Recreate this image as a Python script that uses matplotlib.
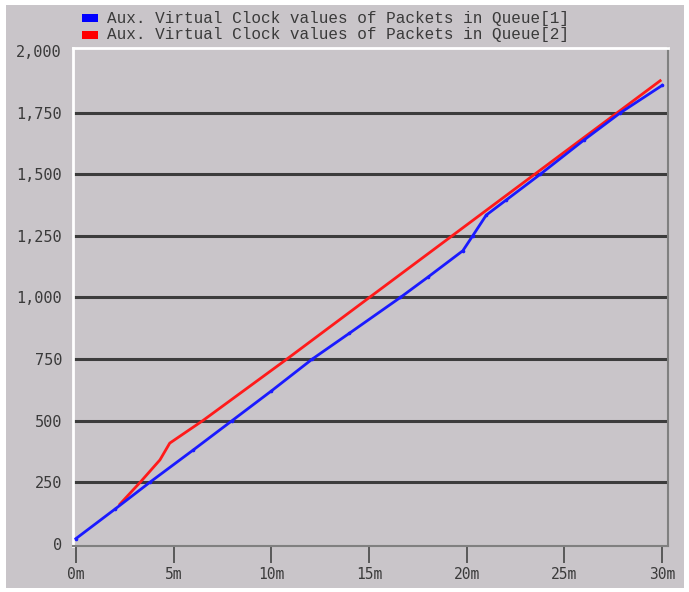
import matplotlib.pyplot as plt
from matplotlib.patches import Rectangle

# --- data ---
q1_minutes = [0, 2, 3.8, 6, 8, 10, 12.1, 14, 16.6, 18, 19.8, 20.3, 21, 22, 23.75,
              26, 27.85, 30]
q1_clock = [20, 140, 250, 380, 500, 620, 750, 855, 1000, 1082, 1190, 1250, 1335,
            1395, 1500, 1640, 1750, 1862]
q2_minutes = [2.25, 3.3, 4.3, 4.8, 6.5, 10.8, 15, 20, 25, 29.9]
q2_clock = [160, 250, 340, 408, 500, 750, 999, 1295, 1591, 1881]

y_ticks = [0, 250, 500, 750, 1000, 1250, 1500, 1750, 2000]
y_labels = ["0", "250", "500", "750", "1,000", "1,250", "1,500", "1,750", "2,000"]
x_ticks = [0, 5, 10, 15, 20, 25, 30]
x_labels = ["0m", "5m", "10m", "15m", "20m", "25m", "30m"]
legend_labels = ["Aux. Virtual Clock values of Packets in Queue[1]",
                 "Aux. Virtual Clock values of Packets in Queue[2]"]

BG = "#c9c5c9"
GRID = "#3c3c3c"

fig = plt.figure(figsize=(6.89, 5.92), dpi=100)
fig.patch.set_facecolor("white")
fig.patches.append(Rectangle((6 / 689, 1 - 588 / 592), 678 / 689, 583 / 592,
                             transform=fig.transFigure, facecolor=BG,
                             edgecolor="none", zorder=-10))

ax = fig.add_axes([73 / 689, 1 - 546 / 592, 595 / 689, 498 / 592])
ax.set_facecolor(BG)
ax.set_xlim(-0.15, 30.3)
ax.set_ylim(-10, 2014)

# horizontal grid lines
for v in y_ticks[1:-1]:
    ax.axhline(v, color=GRID, lw=2.2, zorder=1)

ax.plot(q2_minutes, q2_clock, color="#ff1a1a", lw=2, zorder=3)
ax.plot(q1_minutes, q1_clock, color="#1a1aff", lw=2, marker="o", ms=1.6, zorder=4)

for side in ["left", "top"]:
    ax.spines[side].set_color("white")
    ax.spines[side].set_linewidth(2)
for side in ["right", "bottom"]:
    ax.spines[side].set_color("#808080")
    ax.spines[side].set_linewidth(1.5)

mono = ["DejaVu Sans Mono"]
ax.set_yticks(y_ticks)
ax.set_yticklabels(y_labels, family=mono, fontsize=11, color="#3a3a3a")
ax.tick_params(axis="y", length=0, pad=8)
ax.set_xticks(x_ticks)
ax.set_xticklabels(x_labels, family=mono, fontsize=10.5, color="#3a3a3a")
ax.tick_params(axis="x", length=12, width=1.3, color="#505050", direction="out", pad=3)

# legend drawn at the top left of the figure
for i, (lab, col) in enumerate(zip(legend_labels, ["#0000ff", "#ff0000"])):
    y = 1 - (18 + 17 * i) / 592
    fig.patches.append(Rectangle((82 / 689, y - 4 / 592), 16 / 689, 8 / 592,
                                 transform=fig.transFigure, facecolor=col,
                                 edgecolor="none"))
    fig.text(107 / 689, y, lab, family=["Liberation Mono"], fontsize=11.5,
             color="#3a3a3a", va="center", ha="left")

fig.savefig("out.png", dpi=100, facecolor=fig.get_facecolor())
